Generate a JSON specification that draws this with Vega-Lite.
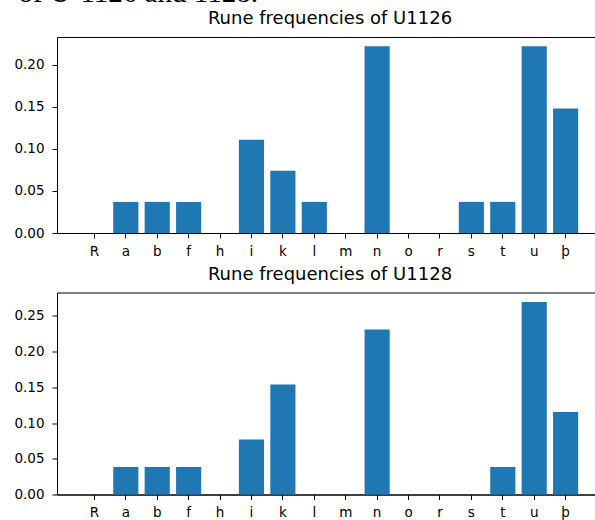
{
  "$schema": "https://vega.github.io/schema/vega-lite/v6.json",
  "padding": {"left": 13, "top": -22, "right": 0, "bottom": 0},
  "background": "white",
  "title": {"text": "of U-1126 and 1128.", "font": "Liberation Serif", "fontSize": 29, "fontWeight": "normal", "color": "black", "anchor": "start", "baseline": "alphabetic", "offset": -21, "dx": 5, "frame": "bounds"},
  "datasets": {
    "u1126": [
      {"rune": "R", "freq": 0},
      {"rune": "a", "freq": 0.037037},
      {"rune": "b", "freq": 0.037037},
      {"rune": "f", "freq": 0.037037},
      {"rune": "h", "freq": 0},
      {"rune": "i", "freq": 0.111111},
      {"rune": "k", "freq": 0.074074},
      {"rune": "l", "freq": 0.037037},
      {"rune": "m", "freq": 0},
      {"rune": "n", "freq": 0.222222},
      {"rune": "o", "freq": 0},
      {"rune": "r", "freq": 0},
      {"rune": "s", "freq": 0.037037},
      {"rune": "t", "freq": 0.037037},
      {"rune": "u", "freq": 0.222222},
      {"rune": "þ", "freq": 0.148148}
    ],
    "u1128": [
      {"rune": "R", "freq": 0},
      {"rune": "a", "freq": 0.038462},
      {"rune": "b", "freq": 0.038462},
      {"rune": "f", "freq": 0.038462},
      {"rune": "h", "freq": 0},
      {"rune": "i", "freq": 0.076923},
      {"rune": "k", "freq": 0.153846},
      {"rune": "l", "freq": 0},
      {"rune": "m", "freq": 0},
      {"rune": "n", "freq": 0.230769},
      {"rune": "o", "freq": 0},
      {"rune": "r", "freq": 0},
      {"rune": "s", "freq": 0},
      {"rune": "t", "freq": 0.038462},
      {"rune": "u", "freq": 0.269231},
      {"rune": "þ", "freq": 0.115385}
    ]
  },
  "spacing": 6.5,
  "vconcat": [
    {
      "title": "Rune frequencies of U1126",
      "width": 546,
      "height": 196,
      "data": {"name": "u1126"},
      "mark": {"type": "bar", "color": "#1f77b4"},
      "encoding": {
        "x": {"field": "rune", "type": "nominal", "sort": ["R","a","b","f","h","i","k","l","m","n","o","r","s","t","u","þ"],
              "scale": {"paddingInner": 0.2, "paddingOuter": 0.79}, "axis": {"title": null, "labelAngle": 0}},
        "y": {"field": "freq", "type": "quantitative", "scale": {"domain": [0, 0.2333], "nice": false, "zero": true},
              "axis": {"title": null, "values": [0, 0.05, 0.1, 0.15, 0.2], "format": ".2f"}}
      }
    },
    {
      "title": "Rune frequencies of U1128",
      "width": 546,
      "height": 202,
      "data": {"name": "u1128"},
      "mark": {"type": "bar", "color": "#1f77b4"},
      "encoding": {
        "x": {"field": "rune", "type": "nominal", "sort": ["R","a","b","f","h","i","k","l","m","n","o","r","s","t","u","þ"],
              "scale": {"paddingInner": 0.2, "paddingOuter": 0.79}, "axis": {"title": null, "labelAngle": 0}},
        "y": {"field": "freq", "type": "quantitative", "scale": {"domain": [0, 0.2827], "nice": false, "zero": true},
              "axis": {"title": null, "values": [0, 0.05, 0.1, 0.15, 0.2, 0.25], "format": ".2f"}}
      }
    }
  ],
  "config": {
    "font": "DejaVu Sans",
    "view": {"stroke": "black", "strokeWidth": 1},
    "title": {"font": "DejaVu Sans", "fontSize": 18, "fontWeight": "normal", "color": "black", "baseline": "alphabetic", "offset": 9},
    "axis": {
      "grid": false,
      "domainColor": "black",
      "domainWidth": 1,
      "tickColor": "black",
      "tickWidth": 1,
      "tickSize": 5,
      "labelFont": "DejaVu Sans",
      "labelFontSize": 13.5,
      "labelColor": "black",
      "labelPadding": 7
    },
    "axisY": {"labelPadding": 8},
    "axisX": {"labelPadding": 6}
  }
}
